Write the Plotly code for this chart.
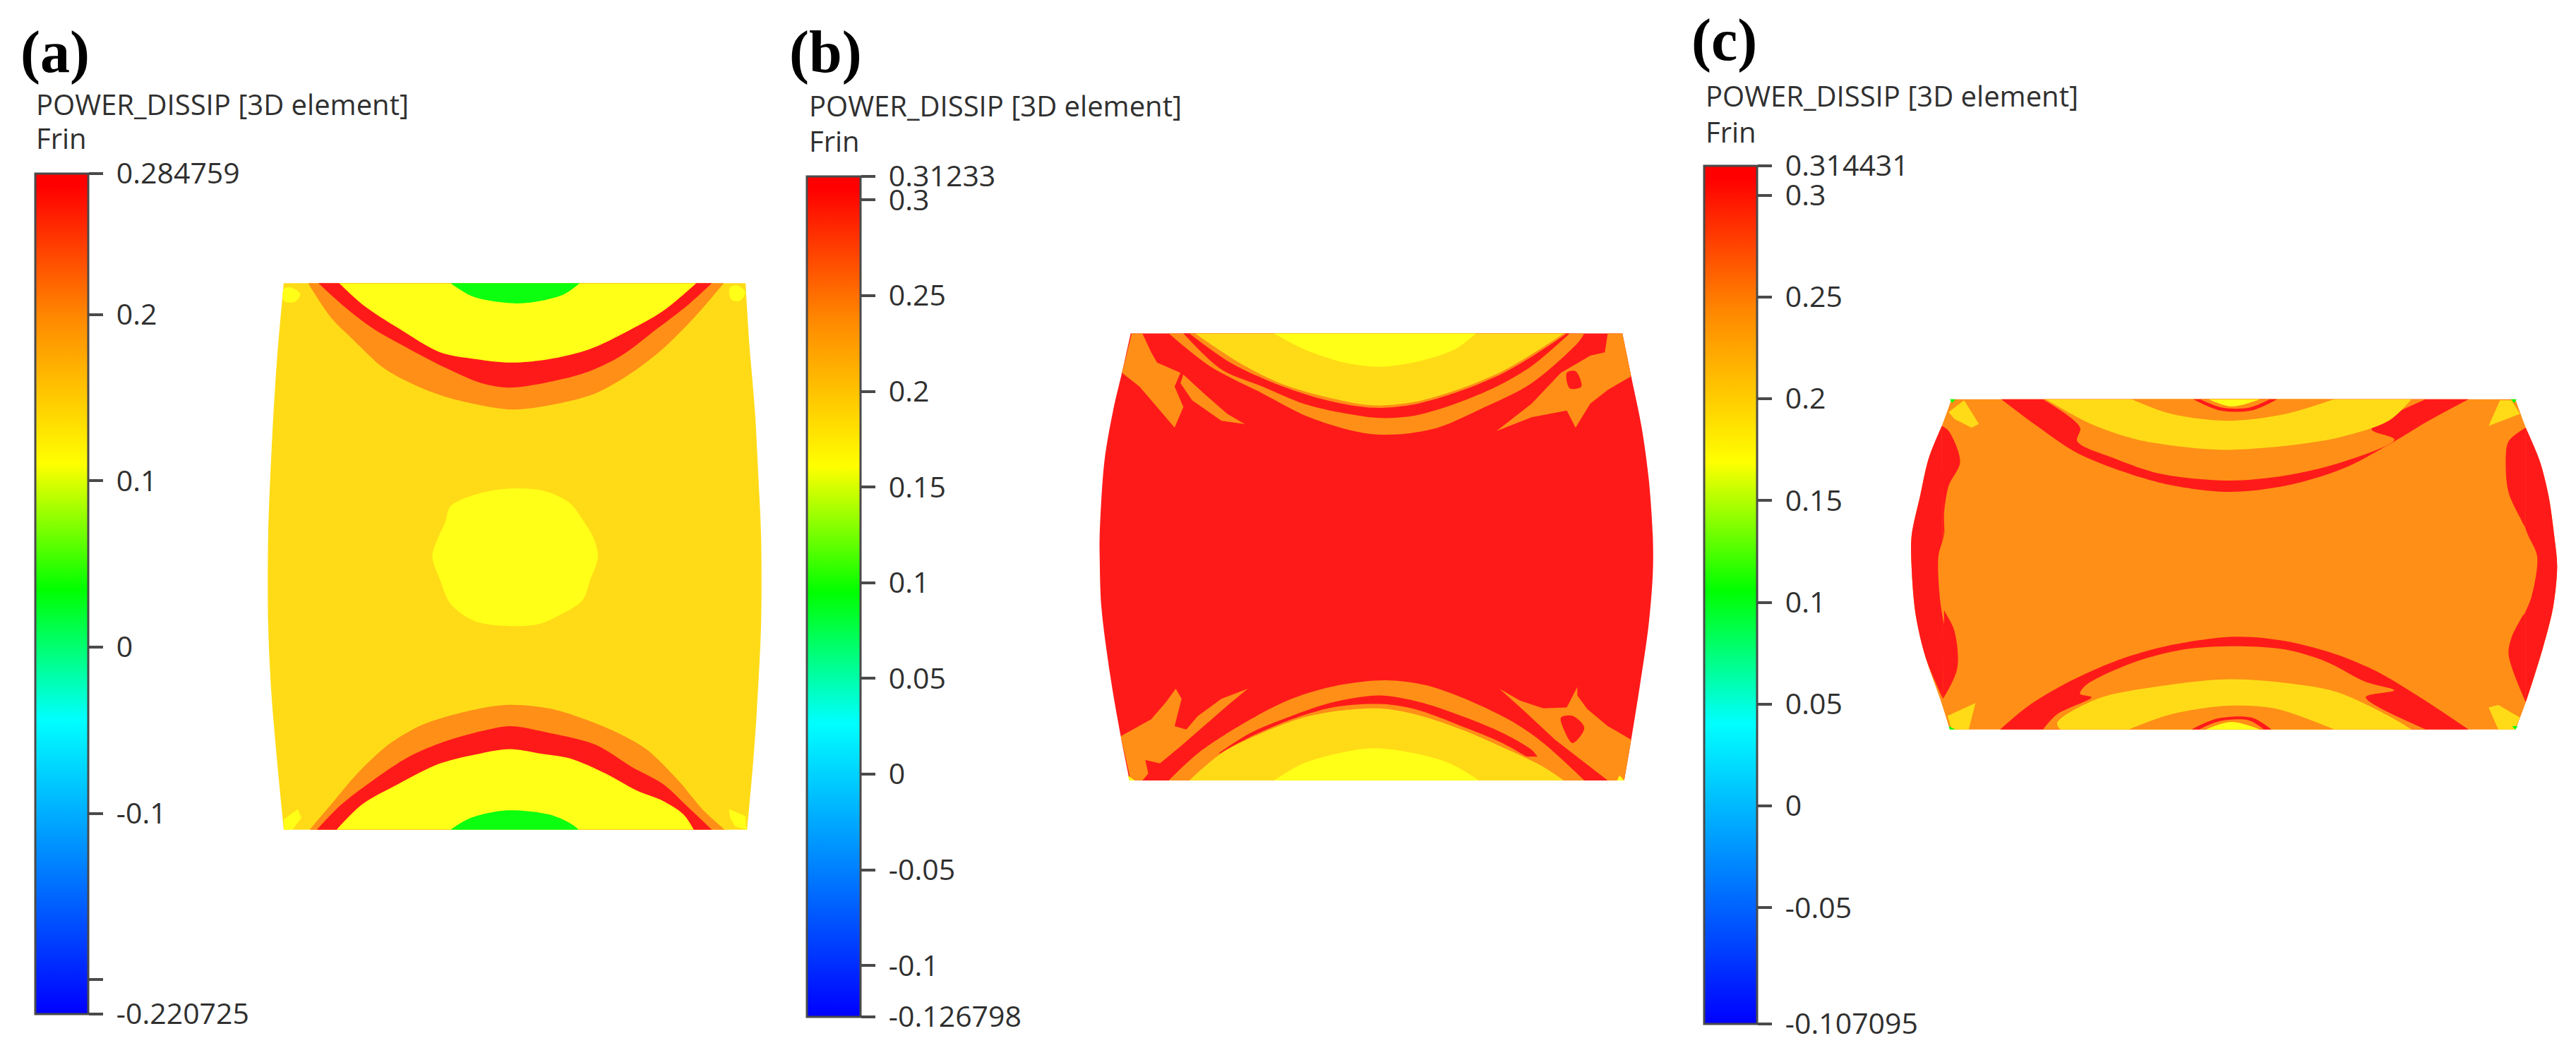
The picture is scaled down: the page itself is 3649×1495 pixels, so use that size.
import plotly.graph_objects as go

W, H = 3649, 1495
PAGE = 8  # the browser's default page margin
FONT = "Open Sans"
RED, ORANGE, GOLD, YELLOW, GREEN = "#FF1A1A", "#FF8F17", "#FFDB17", "#FFFF17", "#0CFF0F"

JET = [[0, "#0000FF"], [0.35, "#00FFFF"], [0.505, "#00FF00"], [0.655, "#FFFF00"],
       [0.83, "#FF8800"], [0.985, "#FF0000"], [1, "#FF0000"]]

# ---------- colour-bar readings ----------
A_RANGE = [-0.220725, 0.284759]
A_TICKS = [-0.220725, -0.2, -0.1, 0, 0.1, 0.2, 0.284759]
A_LABELS = ["-0.220725", "", "-0.1", "0", "0.1", "0.2", "0.284759"]
B_RANGE = [-0.126798, 0.31233]
B_TICKS = [-0.126798, -0.1, -0.05, 0, 0.05, 0.1, 0.15, 0.2, 0.25, 0.3, 0.31233]
B_LABELS = ["-0.126798", "-0.1", "-0.05", "0", "0.05", "0.1", "0.15", "0.2", "0.25", "0.3", "0.31233"]
C_RANGE = [-0.107095, 0.314431]
C_TICKS = [-0.107095, -0.05, 0, 0.05, 0.1, 0.15, 0.2, 0.25, 0.3, 0.314431]
C_LABELS = ["-0.107095", "-0.05", "0", "0.05", "0.1", "0.15", "0.2", "0.25", "0.3", "0.314431"]
HEADING = "POWER_DISSIP [3D element]"
SUBHEADING = "Frin"


def mapper(x0, sx):
    def U(*p):
        return [(x0 + x / sx, y / 2.063) for x, y in p]
    def L(*p):
        return [(x0 + x / sx, 740 + y / 2.077) for x, y in p]
    return U, L


def S(colour, pts):   # curved edge, straight closing chord
    return (colour, pts, "spline", False)
def C(colour, pts):   # closed curve
    return (colour, pts, "spline", True)
def P(colour, pts):   # straight-edged polygon
    return (colour, pts, "linear", True)


# ---------- panel (a) contour regions ----------
U, L = mapper(0, 1.3635)
A_REGIONS = [
    P(GOLD, U((548,828),(1440,828),(1455,1568)) + L((1443,905),(548,905)) + U((530,1568))),
    S(GOLD, U((1440,828),(1447,1000),(1458,1200),(1465,1400),(1470,1568)) + L((1470,300),(1462,550),(1455,700),(1443,905))),
    S(GOLD, U((548,828),(535,1050),(525,1300),(518,1568)) + L((518,300),(524,500),(535,700),(548,905))),
    S(ORANGE, U((595,828),(640,930),(680,990),(740,1075),(800,1125),(860,1160),(930,1185),(990,1197),(1060,1185),(1150,1150),(1220,1090),(1280,1020),(1340,930),(1398,828))),
    S(RED, U((615,828),(660,890),(720,960),(790,1020),(860,1075),(930,1120),(985,1133),(1050,1120),(1130,1090),(1200,1040),(1270,960),(1330,890),(1375,828))),
    S(YELLOW, U((655,828),(700,890),(770,960),(850,1030),(920,1050),(985,1060),(1060,1050),(1140,1020),(1210,970),(1280,910),(1345,828))),
    S(GREEN, U((870,828),(910,865),(950,880),(1000,887),(1050,878),(1090,860),(1120,828))),
    C(YELLOW, U((548,845),(562,840),(580,860),(570,882),(548,880))),
    C(YELLOW, U((1410,840),(1425,835),(1440,855),(1428,880),(1412,875))),
    C(YELLOW, U((870,1480),(920,1445),(985,1428),(1050,1435),(1100,1470),(1130,1530),(1145,1568))
            + L((1155,100),(1140,170),(1125,230),(1085,270),(1040,300),(970,305),(915,290),(870,240),(850,170),(835,100),(845,50),(860,0))),
    S(ORANGE, L((598,905),(640,830),(690,740),(750,655),(810,600),(880,565),(975,538),(1060,548),(1130,580),(1200,625),(1250,670),(1310,760),(1360,850),(1400,905))),
    S(RED, L((612,905),(660,830),(720,760),(790,690),(860,645),(930,615),(985,600),(1060,620),(1150,655),(1220,720),(1280,770),(1330,840),(1375,905))),
    S(YELLOW, L((650,905),(700,830),(770,770),(850,710),(930,680),(985,668),(1040,680),(1100,695),(1170,740),(1230,790),(1280,820),(1320,860),(1340,905))),
    S(GREEN, L((870,905),(910,870),(980,848),(1060,860),(1100,885),(1118,905))),
    P(YELLOW, L((548,875),(575,845),(582,870),(565,905),(548,905))),
    P(YELLOW, L((1408,845),(1440,865),(1442,905),(1420,895),(1410,870))),
]

# ---------- panel (b) contour regions ----------
U, L = mapper(1100, 1.206)
B_REGIONS = [
    P(RED, U((605,975),(1445,975),(1470,1568)) + L((1448,760),(603,760)) + U((575,1568))),
    S(RED, U((1445,975),(1460,1100),(1478,1250),(1490,1400),(1497,1568)) + L((1497,150),(1490,300),(1475,480),(1460,640),(1448,760))),
    S(RED, U((605,975),(590,1090),(575,1200),(560,1350),(552,1568)) + L((552,100),(555,250),(570,450),(588,630),(603,760))),
    P(ORANGE, U((607,975),(625,975),(640,1030),(650,1060),(690,1090),(680,1130),(695,1190),(680,1250),(650,1190),(620,1130),(590,1090))),
    P(ORANGE, U((695,1095),(730,1150),(770,1210),(800,1240),(760,1230),(710,1170),(690,1120))),
    P(ORANGE, U((1445,975),(1460,1100),(1420,1140),(1390,1180),(1365,1250),(1350,1200),(1290,1220),(1230,1260),(1290,1180),(1340,1090),(1390,1040),(1415,1030),(1420,975))),
    C(RED, U((1350,1090),(1365,1085),(1375,1130),(1355,1135))),
    S(ORANGE, U((670,975),(740,1070),(830,1150),(910,1220),(1000,1265),(1060,1270),(1130,1250),(1210,1190),(1290,1120),(1370,1000),(1380,975))),
    S(RED, U((695,975),(760,1080),(830,1130),(900,1180),(960,1205),(1030,1222),(1090,1215),(1160,1180),(1230,1130),(1290,1070),(1355,975))),
    S(ORANGE, U((705,975),(775,1060),(850,1120),(940,1170),(1020,1192),(1090,1182),(1170,1142),(1240,1092),(1300,1032),(1350,975))),
    S(GOLD, U((715,975),(790,1060),(860,1120),(950,1165),(1020,1185),(1090,1175),(1170,1135),(1240,1085),(1300,1025),(1345,975))),
    S(YELLOW, U((850,975),(900,1020),(970,1060),(1030,1072),(1100,1055),(1160,1020),(1195,975))),
    P(ORANGE, L((588,630),(640,580),(665,530),(682,490),(692,520),(680,600),(700,610),(720,570),(760,520),(805,490),(770,540),(730,600),(690,660),(655,710),(630,700),(635,740),(625,760),(605,760))),
    P(ORANGE, L((1460,640),(1420,600),(1385,550),(1368,510),(1368,485),(1350,545),(1310,548),(1270,525),(1235,490),(1280,560),(1330,640),(1360,680),(1390,720),(1420,760),(1448,760))),
    C(RED, L((1340,575),(1360,570),(1380,605),(1360,650),(1345,610))),
    S(ORANGE, L((670,760),(720,680),(800,590),(880,520),(960,480),(1040,465),(1110,480),(1190,530),(1260,590),(1310,650),(1380,760))),
    S(RED, L((755,680),(810,620),(880,570),(950,530),(1030,510),(1100,530),(1170,570),(1240,620),(1290,670),(1300,690))),
    S(ORANGE, L((710,760),(750,690),(800,640),(880,580),(950,545),(1030,535),(1090,550),(1170,600),(1240,650),(1300,710),(1345,760))),
    S(GOLD, L((705,760),(760,680),(830,620),(900,575),(960,555),(1030,548),(1090,565),(1170,610),(1250,670),(1310,720),(1345,760))),
    S(YELLOW, L((850,760),(900,710),(960,680),(1020,665),(1090,680),(1150,710),(1200,760))),
    P(YELLOW, L((600,745),(612,760),(603,760))),
    P(YELLOW, L((1440,745),(1448,760),(1436,760))),
]

# ---------- panel (c) contour regions ----------
U, L = mapper(2380, 1.2356)
C_REGIONS = [
    P(ORANGE, U((475,1167),(1462,1167),(1490,1568)) + L((1462,610),(472,610)) + U((440,1568))),
    S(ORANGE, U((1462,1167),(1480,1250),(1505,1350),(1520,1450),(1530,1568)) + L((1535,130),(1528,250),(1510,370),(1480,530),(1462,610))),
    S(ORANGE, U((475,1167),(458,1245),(435,1340),(420,1450),(405,1568)) + L((405,130),(412,270),(430,400),(455,520),(472,610))),
    S(RED, U((458,1245),(435,1340),(420,1450),(405,1568)) + L((405,130),(412,270),(430,400),(460,520))),
    S(RED, U((458,1245),(470,1260),(490,1350),(470,1420),(462,1500),(462,1568)) + L((452,100),(455,230),(480,320),(485,430),(460,520))),
    S(ORANGE, U((462,1480),(461,1568)) + L((452,100),(455,230),(462,300))),
    S(RED, U((1480,1250),(1505,1350),(1520,1450),(1530,1568)) + L((1535,130),(1528,250),(1510,370),(1480,530))),
    S(RED, U((1480,1250),(1450,1290),(1445,1350),(1450,1440),(1475,1530),(1485,1568)) + L((1500,100),(1490,220),(1455,340),(1450,390),(1480,530))),
    S(ORANGE, U((1476,1530),(1485,1568)) + L((1500,100),(1490,220),(1476,275))),
    P(GOLD, U((470,1205),(497,1170),(523,1240),(510,1250),(480,1225))),
    P(GOLD, U((1435,1170),(1455,1170),(1470,1210),(1415,1245))),
    P(GOLD, L((468,570),(517,532),(505,610),(475,610))),
    P(GOLD, L((1415,545),(1432,538),(1470,575),(1460,610),(1432,610))),
    P(GREEN, U((472,1167),(482,1167),(476,1178))),
    P(GREEN, U((1454,1167),(1464,1167),(1460,1178))),
    P(GREEN, L((470,600),(482,610),(472,610))),
    P(GREEN, L((1456,600),(1466,600),(1462,610))),
    S(RED, U((562,1167),(620,1240),(690,1320),(760,1370),(850,1415),(960,1438),(1060,1420),(1160,1370),(1240,1300),(1310,1230),(1380,1167))),
    S(ORANGE, U((635,1167),(700,1250),(695,1290),(760,1340),(840,1385),(960,1405),(1060,1390),(1160,1350),(1250,1285),(1210,1255),(1305,1167))),
    S(GOLD, U((640,1167),(720,1240),(800,1285),(900,1310),(960,1315),(1050,1305),(1150,1280),(1240,1230),(1280,1167))),
    S(ORANGE, U((790,1167),(860,1210),(960,1230),(1060,1210),(1145,1167))),
    S(RED, U((898,1167),(945,1200),(1000,1200),(1045,1167))),
    S(ORANGE, U((910,1167),(950,1192),(995,1192),(1032,1167))),
    S(YELLOW, U((925,1167),(965,1188),(1015,1167))),
    S(RED, L((560,610),(610,540),(680,470),(760,410),(850,365),(970,337),(1060,350),(1150,390),(1220,440),(1290,510),(1380,610))),
    S(ORANGE, L((635,610),(660,565),(720,515),(700,505),(710,480),(790,415),(880,375),(970,365),(1060,375),(1130,410),(1200,470),(1250,495),(1200,515),(1305,610))),
    S(GOLD, L((665,610),(660,590),(730,520),(830,485),(960,462),(1070,475),(1150,500),(1240,570),(1280,610))),
    S(ORANGE, L((785,610),(860,565),(960,540),(1040,548),(1145,610))),
    S(RED, L((895,610),(940,578),(1000,575),(1035,610))),
    S(ORANGE, L((908,610),(945,585),(995,583),(1022,610))),
    S(YELLOW, L((920,610),(965,588),(1015,610))),
]

PANELS = [
    dict(name="(a)", label_x=29, label_y=74, head_x=51, head_y=147, sub_y=195,
         bar_x=50, bar_top=246, bar_bot=1437, bar_w=75, ca="coloraxis",
         rng=A_RANGE, ticks=A_TICKS, labels=A_LABELS, regions=A_REGIONS),
    dict(name="(b)", label_x=1118, label_y=74, head_x=1146, head_y=149, sub_y=199,
         bar_x=1143, bar_top=250, bar_bot=1441, bar_w=76, ca="coloraxis2",
         rng=B_RANGE, ticks=B_TICKS, labels=B_LABELS, regions=B_REGIONS),
    dict(name="(c)", label_x=2396, label_y=57, head_x=2416, head_y=135, sub_y=186,
         bar_x=2414, bar_top=235, bar_bot=1451, bar_w=75, ca="coloraxis3",
         rng=C_RANGE, ticks=C_TICKS, labels=C_LABELS, regions=C_REGIONS),
]

FIG_W, FIG_H = W - PAGE, H - PAGE
fig = go.Figure()
layout_extra = {}
annotations = []
for p in PANELS:
    first = p["regions"][0][1]
    # carrier of the colour axis, hidden beneath the region fills
    fig.add_trace(go.Scatter(
        x=[first[2][0]] * 2, y=[first[2][1]] * 2, mode="markers",
        marker=dict(size=1, color=p["rng"], coloraxis=p["ca"]),
        showlegend=False, hoverinfo="skip"))
    for colour, pts, shape, closed in p["regions"]:
        path = pts + [pts[0]] if closed else pts
        line = dict(width=0, color=colour, shape=shape)
        if shape == "spline":
            line["smoothing"] = 0.9
        fig.add_trace(go.Scatter(
            x=[v[0] for v in path], y=[v[1] for v in path],
            mode="lines", line=line, fill="toself",
            fillcolor=colour, showlegend=False, hoverinfo="skip"))
    layout_extra[p["ca"]] = dict(
        cmin=p["rng"][0], cmax=p["rng"][1], colorscale=JET,
        colorbar=dict(
            x=(p["bar_x"] - PAGE) / FIG_W, xanchor="left", xpad=0,
            y=1 - (p["bar_top"] - PAGE) / FIG_H, yanchor="top", ypad=0,
            thickness=p["bar_w"], thicknessmode="pixels",
            len=p["bar_bot"] - p["bar_top"], lenmode="pixels",
            outlinecolor="#4a4a4a", outlinewidth=3, borderwidth=0,
            tickmode="array", tickvals=p["ticks"],
            ticktext=["\u00a0" + t if t else t for t in p["labels"]],
            ticks="outside", ticklen=20, tickwidth=4, tickcolor="#4a4a4a",
            tickfont=dict(family=FONT, size=41, color="#303030"),
        ))
    annotations.append(dict(text=f"<b>{p['name']}</b>", x=p["label_x"], y=p["label_y"],
                            xref="x", yref="y", xanchor="left", yanchor="middle",
                            showarrow=False, xshift=-2,
                            font=dict(family="Liberation Serif", size=84, color="#000000")))
    annotations.append(dict(text=HEADING, x=p["head_x"], y=p["head_y"], xref="x", yref="y",
                            xanchor="left", yanchor="middle", showarrow=False, xshift=-2,
                            font=dict(family=FONT, size=40, color="#303030")))
    annotations.append(dict(text=SUBHEADING, x=p["head_x"], y=p["sub_y"], xref="x", yref="y",
                            xanchor="left", yanchor="middle", showarrow=False, xshift=-2,
                            font=dict(family=FONT, size=40, color="#303030")))

fig.update_layout(
    width=FIG_W, height=FIG_H, margin=dict(l=0, r=0, t=0, b=0, pad=0, autoexpand=False),
    paper_bgcolor="white", plot_bgcolor="white", showlegend=False,
    xaxis=dict(range=[PAGE, W], visible=False, fixedrange=True),
    yaxis=dict(range=[H, PAGE], visible=False, fixedrange=True),
    annotations=annotations, **layout_extra)

fig.write_html("out.html")
